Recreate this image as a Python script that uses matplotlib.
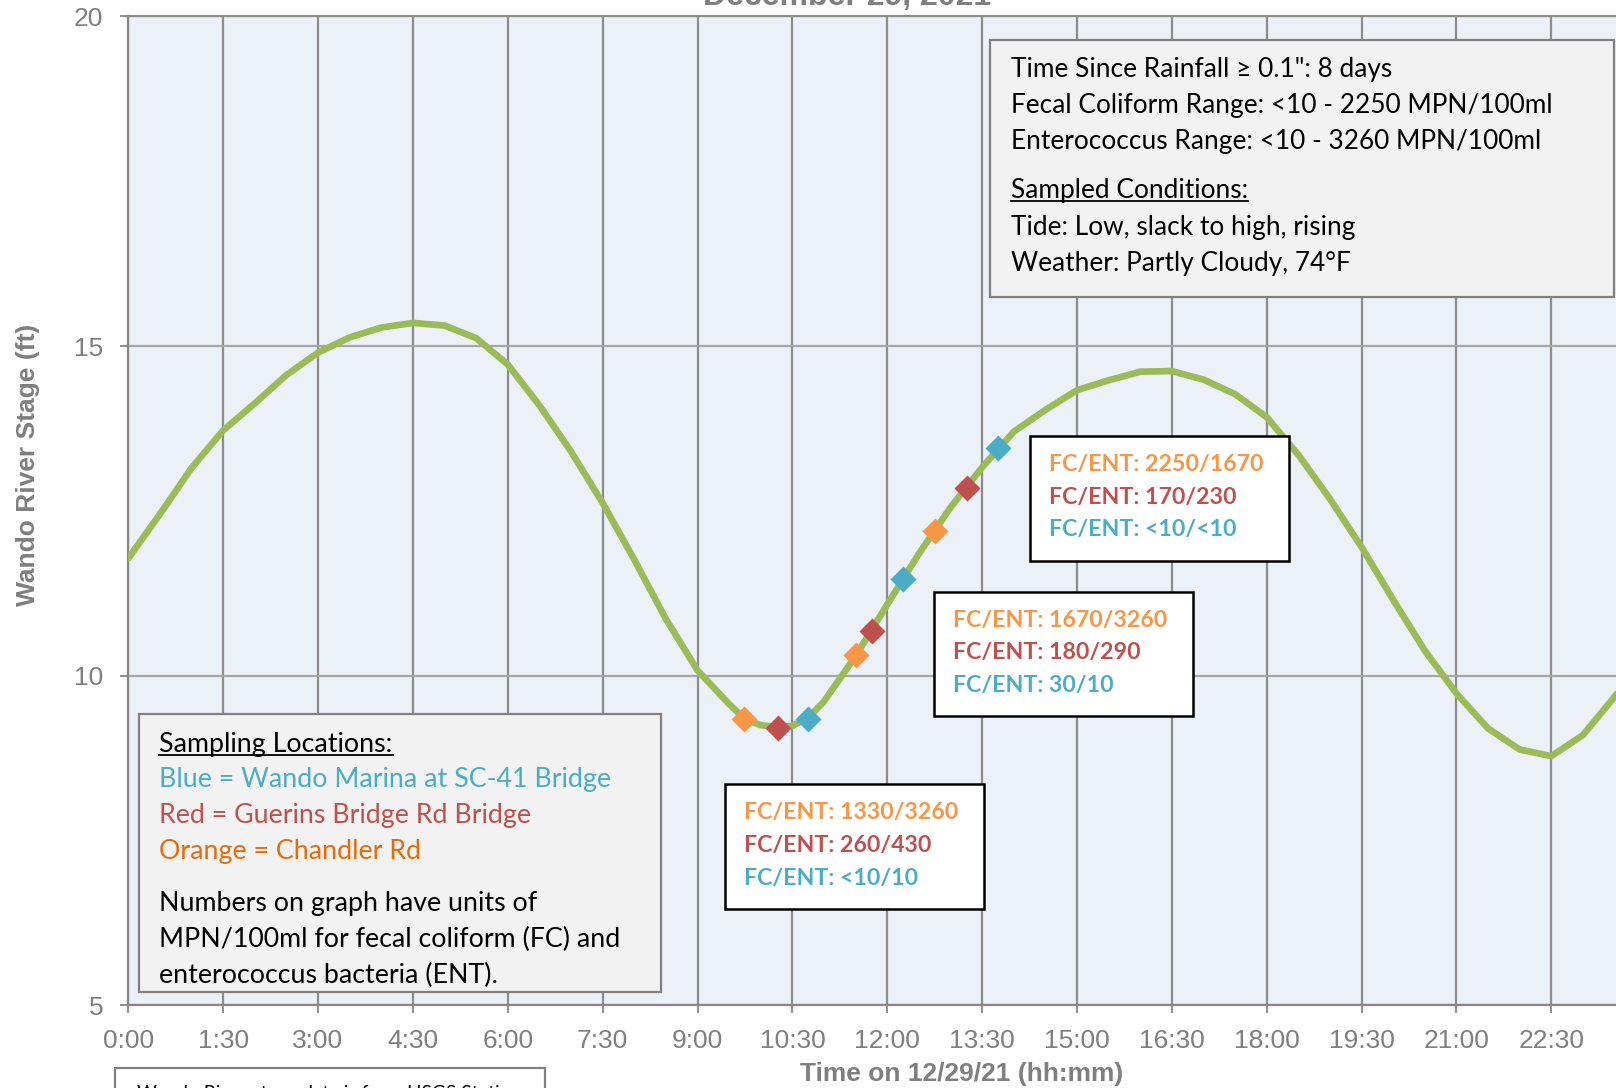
import matplotlib
matplotlib.use('Agg')
import matplotlib.pyplot as plt
from matplotlib.patches import Rectangle
from matplotlib.lines import Line2D

plt.rcParams['font.family'] = ['Liberation Sans', 'DejaVu Sans']

# ---------------- data ----------------
hours = [0.0, 0.5, 1.0, 1.5, 2.0, 2.5, 3.0, 3.5, 4.0, 4.5, 5.0, 5.5, 6.0, 6.5, 7.0,
         7.5, 8.0, 8.5, 9.0, 9.5, 9.75, 10.0, 10.25, 10.5, 10.75, 11.0, 11.5, 12.0,
         12.5, 13.0, 13.5, 14.0, 14.5, 15.0, 15.5, 16.0, 16.5, 17.0, 17.5, 18.0, 18.5,
         19.0, 19.5, 20.0, 20.5, 21.0, 21.5, 22.0, 22.5, 23.0, 23.5, 24.0]
stage = [11.78, 12.45, 13.15, 13.72, 14.13, 14.56, 14.90, 15.13, 15.28, 15.35, 15.31,
         15.12, 14.72, 14.10, 13.40, 12.62, 11.76, 10.86, 10.08, 9.57, 9.34, 9.25,
         9.22, 9.24, 9.36, 9.61, 10.30, 11.08, 11.85, 12.55, 13.16, 13.70, 14.03,
         14.33, 14.48, 14.61, 14.62, 14.49, 14.27, 13.92, 13.35, 12.68, 11.95, 11.15,
         10.38, 9.73, 9.20, 8.88, 8.78, 9.10, 9.68, 10.30]

sample_hours = [9.74, 10.27, 10.75, 11.50, 11.76, 12.25, 12.75, 13.26, 13.75]
sample_stage = [9.35, 9.21, 9.35, 10.31, 10.68, 11.46, 12.20, 12.85, 13.46]
sample_site = ['Orange', 'Red', 'Blue', 'Orange', 'Red', 'Blue', 'Orange', 'Red', 'Blue']

marker_colors = {'Orange': '#F79646', 'Red': '#C0504D', 'Blue': '#4BACC6'}

x_ticks = [0, 1.5, 3, 4.5, 6, 7.5, 9, 10.5, 12, 13.5, 15, 16.5, 18, 19.5, 21, 22.5]
x_tick_labels = ['0:00', '1:30', '3:00', '4:30', '6:00', '7:30', '9:00', '10:30', '12:00',
                 '13:30', '15:00', '16:30', '18:00', '19:30', '21:00', '22:30']
y_ticks = [5, 10, 15, 20]

ann_low = ['FC/ENT: 1330/3260', 'FC/ENT: 260/430', 'FC/ENT: <10/10']
ann_mid = ['FC/ENT: 1670/3260', 'FC/ENT: 180/290', 'FC/ENT: 30/10']
ann_high = ['FC/ENT: 2250/1670', 'FC/ENT: 170/230', 'FC/ENT: <10/<10']
ann_sites = ['Orange', 'Red', 'Blue']

info_lines = ['Time Since Rainfall \u2265 0.1": 8 days',
              'Fecal Coliform Range: <10 - 2250 MPN/100ml',
              'Enterococcus Range: <10 - 3260 MPN/100ml']
cond_title = 'Sampled Conditions:'
cond_lines = ['Tide: Low, slack to high, rising', 'Weather: Partly Cloudy, 74\u00b0F']

legend_title = 'Sampling Locations:'
legend_lines = ['Blue = Wando Marina at SC-41 Bridge', 'Red = Guerins Bridge Rd Bridge',
                'Orange = Chandler Rd']
legend_colors = ['#4BACC6', '#C0504D', '#E46C0A']
note_lines = ['Numbers on graph have units of', 'MPN/100ml for fecal coliform (FC) and',
              'enterococcus bacteria (ENT).']

title = 'December 29, 2021'
xlabel = 'Time on 12/29/21 (hh:mm)'
ylabel = 'Wando River Stage (ft)'
source_note = 'Wando River stage data is from USGS Station'

# ---------------- figure ----------------
W, H = 1616, 1088
fig = plt.figure(figsize=(W / 100, H / 100), dpi=100)
fig.patch.set_facecolor('white')
renderer = fig.canvas.get_renderer()


def fx(x):
    return x / W


def fy(y):
    return 1 - y / H


ax_l, ax_r = 128.3, 1646.2
ax_t, ax_b = 16.3, 1005.4
ax = fig.add_axes([fx(ax_l), fy(ax_b), (ax_r - ax_l) / W, (ax_b - ax_t) / H])
ax.set_facecolor('#ECF1F8')
ax.set_xlim(0, 24)
ax.set_ylim(5, 20)

ax.plot(hours, stage, color='#9BBB59', lw=4.8, solid_capstyle='round',
        solid_joinstyle='round', zorder=3)
for h, s, site in zip(sample_hours, sample_stage, sample_site):
    ax.plot([h], [s], marker='D', ms=13.5, color=marker_colors[site], mec='none',
            linestyle='none', zorder=4)

ax.set_xticks(x_ticks)
ax.set_xticklabels(x_tick_labels)
ax.set_yticks(y_ticks)
ax.set_yticklabels([str(v) for v in y_ticks])
ax.tick_params(axis='both', direction='out', length=6, width=1.3, color='#868686',
               labelsize=19, labelcolor='#7F7F7F')
ax.tick_params(axis='y', pad=12)
ax.tick_params(axis='x', pad=11)
ax.grid(axis='x', color='#8C8C8C', lw=1.6, zorder=1)
ax.grid(axis='y', color='#A6A6A6', lw=1.6, zorder=1)
ax.set_axisbelow(True)
for side in ['left', 'bottom']:
    ax.spines[side].set_color('#868686')
    ax.spines[side].set_linewidth(1.6)
ax.spines['top'].set_color('#8C8C8C')
ax.spines['top'].set_linewidth(1.6)
ax.spines['right'].set_visible(False)

fig.text(fx(847), fy(5), title, ha='center', va='baseline', fontsize=23,
         fontweight='bold', color='#7F7F7F')
fig.text(fx(962), fy(1081), xlabel, ha='center', va='baseline', fontsize=19,
         fontweight='bold', color='#7F7F7F')
fig.text(fx(28), fy(465), ylabel, ha='center', va='center', rotation=90, fontsize=19,
         fontweight='bold', color='#7F7F7F')

CAL = ['Lato', 'DejaVu Sans']


def fit_size(text, weight, target_px, base=20.0):
    t = fig.text(0, 0, text, fontsize=base, family=CAL, fontweight=weight)
    w = t.get_window_extent(renderer).width
    t.remove()
    return base * target_px / w


def box(x0, y0, x1, y1, fc, ec, lw, z=5):
    r = Rectangle((fx(x0), fy(y1)), fx(x1) - fx(x0), (y1 - y0) / H,
                  transform=fig.transFigure, facecolor=fc, edgecolor=ec, lw=lw,
                  zorder=z)
    fig.add_artist(r)


def put(x, y, s, size, color='black', weight='normal', underline=False, z=6):
    t = fig.text(fx(x), fy(y), s, ha='left', va='baseline', fontsize=size, family=CAL,
                 fontweight=weight, color=color, zorder=z)
    if underline:
        w = t.get_window_extent(renderer).width
        fig.add_artist(Line2D([fx(x), fx(x + w)], [fy(y + 3), fy(y + 3)],
                              transform=fig.transFigure, color=color, lw=1.3, zorder=z))
    return t


# info box (top right)
box(990.4, 40.2, 1613.6, 296.7, '#F2F2F2', '#808080', 1.6)
info_size = fit_size(info_lines[1], 'normal', 542)
for i, s in enumerate(info_lines):
    put(1010.7, 76.7 + 36.3 * i, s, info_size)
put(1010.7, 198.3, cond_title, info_size, underline=True)
for i, s in enumerate(cond_lines):
    put(1010.7, 235.0 + 36.5 * i, s, info_size)

# legend box (bottom left)
box(139.0, 714.0, 660.7, 991.7, '#F2F2F2', '#808080', 1.6)
leg_size = fit_size(note_lines[1], 'normal', 460)
put(159.3, 751.7, legend_title, leg_size, underline=True)
for i, (s, c) in enumerate(zip(legend_lines, legend_colors)):
    put(159.3, 787.3 + 35.8 * i, s, leg_size, color=c)
for i, s in enumerate(note_lines):
    put(159.3, 911.0 + 35.8 * i, s, leg_size)

# annotation boxes
ann_size = fit_size(ann_high[0], 'bold', 214)
for lines, (bx0, by0) in zip([ann_low, ann_mid, ann_high],
                             [(724.5, 784.3), (933.9, 591.7), (1029.5, 436.0)]):
    box(bx0, by0, bx0 + 259.5, by0 + 124.5, 'white', 'black', 1.8)
    for i, (s, site) in enumerate(zip(lines, ann_sites)):
        put(bx0 + 19.5, by0 + 35.0 + 32.6 * i, s, ann_size, color=marker_colors[site],
            weight='bold')

# source note box (cut off at bottom)
box(115.4, 1067.5, 545.0, 1140.0, 'white', '#808080', 1.6)
src_size = fit_size(source_note, 'normal', 385)
put(136.7, 1099.0, source_note, src_size)

fig.savefig('out.png', dpi=100)
